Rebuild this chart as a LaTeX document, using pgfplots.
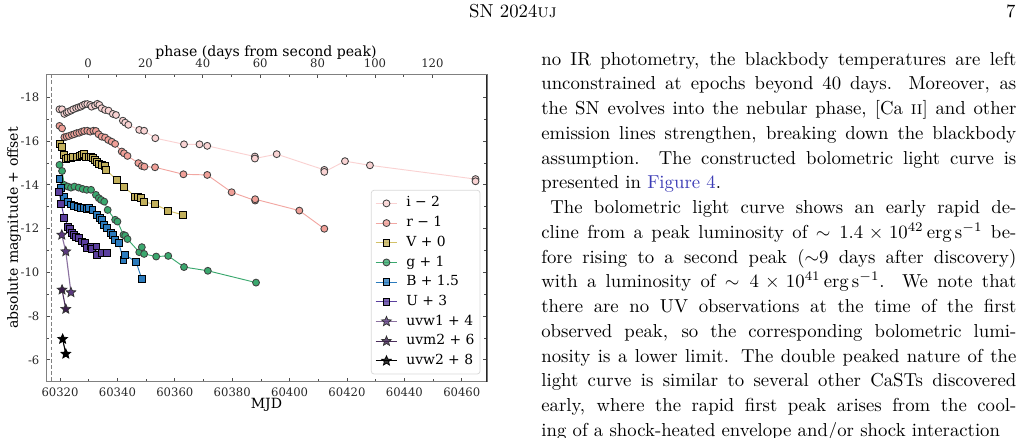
\documentclass[border=0pt]{standalone}
\usepackage{fontspec}
\usepackage{pgfplots}
\pgfplotsset{compat=1.18}
\newfontfamily\chartfont{DejaVu Serif}
\definecolor{ci}{HTML}{F9D3D3}
\definecolor{cil}{HTML}{FAD2D2}
\definecolor{cr}{HTML}{F0A098}
\definecolor{crl}{HTML}{F2A7A2}
\definecolor{cv}{HTML}{C2B05C}
\definecolor{cvl}{HTML}{D3C168}
\definecolor{cg}{HTML}{3AA86E}
\definecolor{cb}{HTML}{2B7BBD}
\definecolor{cu}{HTML}{5B3F9E}
\definecolor{cwa}{HTML}{5C3A80}
\definecolor{cwal}{HTML}{8B71A0}
\definecolor{cmb}{HTML}{3B1E4C}
\definecolor{cmbl}{HTML}{4B2E5C}
\definecolor{linkblue}{HTML}{3B3BB5}
\pgfdeclareplotmark{fstar}{%
  \pgfpathmoveto{\pgfpointpolar{90}{\pgfplotmarksize}}%
  \pgfpathlineto{\pgfpointpolar{126}{0.45\pgfplotmarksize}}%
  \pgfpathlineto{\pgfpointpolar{162}{\pgfplotmarksize}}%
  \pgfpathlineto{\pgfpointpolar{198}{0.45\pgfplotmarksize}}%
  \pgfpathlineto{\pgfpointpolar{234}{\pgfplotmarksize}}%
  \pgfpathlineto{\pgfpointpolar{270}{0.45\pgfplotmarksize}}%
  \pgfpathlineto{\pgfpointpolar{306}{\pgfplotmarksize}}%
  \pgfpathlineto{\pgfpointpolar{342}{0.45\pgfplotmarksize}}%
  \pgfpathlineto{\pgfpointpolar{18}{\pgfplotmarksize}}%
  \pgfpathlineto{\pgfpointpolar{54}{0.45\pgfplotmarksize}}%
  \pgfpathclose
  \pgfusepathqfillstroke}
\begin{document}
\begin{tikzpicture}
\useasboundingbox (0,0) rectangle (549.33pt,-233.07pt);
\clip (0,0) rectangle (549.33pt,-233.07pt);

\begin{axis}[
  at={(24.533pt,-203.57pt)}, anchor=south west,
  scale only axis, width=235.2pt, height=163.95pt,
  xmin=60315.1, xmax=60468.8, ymin=-19.05, ymax=-5.0, y dir=reverse,
  scaled x ticks=false, scaled y ticks=false,
  xtick={60320,60340,60360,60380,60400,60420,60440,60460},
  xticklabels={60320,60340,60360,60380,60400,60420,60440,60460},
  minor x tick num=1,
  ytick={-18,-16,-14,-12,-10,-8,-6},
  yticklabels={-18,-16,-14,-12,-10,-8,-6},
  minor y tick num=1,
  xtick pos=left,
  tick align=inside,
  major tick length=2pt, minor tick length=1.4pt,
  every tick/.style={black!70, line width=0.4pt},
  axis line style={black!50, line width=0.5pt},
  ticklabel style={font=\chartfont\fontsize{6.2}{7}\selectfont, text=black!85},
  legend cell align=left,
  legend style={at={(0.985,0.624)}, anchor=north east, draw=black!15,
    rounded corners=1.5pt, fill=white, fill opacity=0.8, text opacity=1,
    font=\chartfont\fontsize{7.4}{8}\selectfont, inner xsep=2pt, inner ysep=2.5pt,
    row sep=1.5pt, nodes={inner sep=1pt, text height=5.4pt, text depth=1.6pt},
    /tikz/every odd column/.append style={column sep=3.5pt}},
  legend image code/.code={\draw[mark repeat=2,mark phase=2,#1] plot coordinates {(0pt,0pt) (5.8pt,0pt) (11.6pt,0pt)};},
]
\addplot[black!50, line width=0.5pt, dash pattern=on 2.1pt off 1.2pt, forget plot] coordinates {(60317.1,-19.05) (60317.1,-5.0)};

\addplot[color=cil, line width=0.5pt, mark=*, mark size=1.85pt, mark options={fill=ci, draw=black!75, line width=0.45pt}] coordinates {
(60319.8,-17.45) (60320.7,-17.45) (60321.5,-17.24) (60322.3,-17.30) (60322.9,-17.34) (60323.8,-17.39)
(60324.6,-17.45) (60325.6,-17.50) (60326.4,-17.54) (60327.2,-17.57) (60327.9,-17.63) (60328.7,-17.68)
(60329.5,-17.69) (60330.5,-17.65) (60331.0,-17.57) (60332.2,-17.63) (60333.0,-17.70) (60333.7,-17.65)
(60334.5,-17.50) (60335.7,-17.42) (60336.9,-17.39) (60338.4,-17.24) (60339.5,-17.19) (60341.9,-16.93)
(60342.7,-16.84) (60343.8,-16.74) (60347.6,-16.51) (60349.3,-16.47) (60353.2,-16.13) (60363.2,-15.85)
(60368.6,-15.85) (60371.3,-15.78) (60387.9,-15.29) (60387.9,-15.20) (60395.5,-15.40) (60412.1,-14.68)
(60412.1,-14.59) (60419.3,-15.08) (60428.0,-14.89) (60464.8,-14.26) (60464.8,-14.16)};
\addlegendentry{i − 2}

\addplot[color=crl, line width=0.5pt, mark=*, mark size=1.85pt, mark options={fill=cr, draw=black!75, line width=0.45pt}] coordinates {
(60319.8,-16.69) (60320.7,-16.58) (60321.5,-16.17) (60322.3,-16.20) (60323.1,-16.23) (60324.1,-16.28)
(60324.9,-16.31) (60325.8,-16.36) (60326.7,-16.38) (60327.6,-16.43) (60328.4,-16.46) (60329.5,-16.47)
(60330.5,-16.43) (60331.6,-16.47) (60332.5,-16.46) (60333.4,-16.31) (60334.5,-16.20) (60335.7,-16.16)
(60336.8,-16.05) (60338.0,-15.97) (60339.2,-15.87) (60341.5,-15.52) (60342.3,-15.44) (60343.5,-15.32)
(60347.3,-14.99) (60348.5,-14.86) (60349.4,-14.83) (60353.1,-14.80) (60363.0,-14.48) (60371.3,-14.45)
(60379.8,-13.66) (60388.0,-13.28) (60388.0,-13.34) (60403.4,-12.82) (60412.1,-11.99)};
\addlegendentry{r − 1}

\addplot[color=cvl, line width=0.5pt, mark=square*, mark size=1.85pt, mark options={fill=cv, draw=black, line width=0.5pt}] coordinates {
(60320.0,-15.87) (60320.7,-15.74) (60321.2,-15.37) (60322.1,-15.17) (60322.9,-15.21) (60323.7,-15.21)
(60324.6,-15.26) (60325.8,-15.29) (60327.0,-15.32) (60327.6,-15.37) (60328.4,-15.40) (60329.1,-15.26)
(60329.9,-15.29) (60330.7,-15.29) (60331.6,-15.21) (60332.2,-15.14) (60333.0,-15.06) (60333.7,-14.95)
(60334.5,-14.91) (60335.7,-14.86) (60336.0,-14.68) (60339.8,-14.22) (60342.3,-13.92) (60346.1,-13.46)
(60347.3,-13.46) (60348.1,-13.39) (60349.3,-13.21) (60353.1,-13.11) (60357.7,-12.81) (60362.7,-12.63)};
\addlegendentry{V + 0}

\addplot[color=cg, line width=0.5pt, mark=*, mark size=1.85pt, mark options={fill=cg, draw=black!75, line width=0.45pt}] coordinates {
(60319.8,-14.91) (60320.7,-14.63) (60321.5,-13.99) (60322.7,-13.92) (60323.8,-13.87) (60325.0,-13.92)
(60326.5,-13.87) (60327.9,-13.81) (60329.3,-13.77) (60330.8,-13.77) (60332.5,-13.54) (60333.5,-13.39)
(60334.3,-13.31) (60335.4,-13.23) (60336.6,-12.85) (60339.2,-12.40) (60340.0,-12.32) (60342.1,-11.71)
(60342.7,-11.68) (60343.5,-11.52) (60347.6,-10.92) (60348.5,-11.15) (60349.3,-10.84) (60353.5,-10.72)
(60357.7,-10.75) (60363.2,-10.24) (60371.5,-10.07) (60388.3,-9.53)};
\addlegendentry{g + 1}

\addplot[color=cb, line width=0.5pt, mark=square*, mark size=1.85pt, mark options={fill=cb, draw=black, line width=0.5pt}] coordinates {
(60319.8,-14.25) (60320.4,-13.85) (60321.5,-13.46) (60322.7,-13.20) (60323.8,-13.10) (60325.0,-13.05)
(60326.1,-13.00) (60327.3,-12.96) (60328.4,-12.93) (60329.3,-12.90) (60330.1,-12.93) (60331.3,-12.85)
(60333.0,-12.63) (60333.8,-12.50) (60334.7,-12.40) (60335.3,-12.17) (60336.5,-12.02) (60337.6,-11.79)
(60338.4,-11.71) (60339.2,-11.48) (60340.4,-11.36) (60342.1,-10.57) (60342.7,-10.80) (60346.5,-10.47)
(60348.5,-9.69)};
\addlegendentry{B + 1.5}

\addplot[color=cu, line width=0.5pt, mark=square*, mark size=1.85pt, mark options={fill=cu, draw=black, line width=0.5pt}] coordinates {
(60319.7,-13.67) (60320.4,-13.12) (60321.5,-12.48) (60322.9,-12.09) (60323.5,-11.97) (60324.1,-11.80)
(60324.9,-11.70) (60325.6,-11.61) (60326.7,-11.55) (60327.6,-11.41) (60328.8,-11.33) (60329.5,-11.12)
(60330.7,-11.18) (60331.2,-11.08) (60332.7,-11.18) (60332.9,-10.80) (60334.6,-10.88) (60336.5,-10.88)};
\addlegendentry{U + 3}

\addplot[color=cwal, line width=0.6pt, mark=fstar, mark size=2.7pt, mark options={fill=cwa, draw=black!80, line width=0.4pt}] coordinates {
(60320.6,-11.71) (60322.0,-10.95) (60323.8,-9.08)};
\addlegendentry{uvw1 + 4}

\addplot[color=cmbl, line width=0.6pt, mark=fstar, mark size=2.7pt, mark options={fill=cmb, draw=black!80, line width=0.4pt}] coordinates {
(60320.7,-9.20) (60322.0,-8.32)};
\addlegendentry{uvm2 + 6}

\addplot[color=black, line width=0.6pt, mark=fstar, mark size=2.7pt, mark options={fill=black, draw=black, line width=0.4pt}] coordinates {
(60320.9,-6.95) (60322.0,-6.27)};
\addlegendentry{uvw2 + 8}

\draw[black!85, line width=0.6pt] (rel axis cs:1,0) -- (rel axis cs:1,1);
\end{axis}

\begin{axis}[
  at={(24.533pt,-203.57pt)}, anchor=south west,
  scale only axis, width=235.2pt, height=163.95pt,
  xmin=-14.66, xmax=139.04, ymin=0, ymax=1,
  axis x line*=top, axis y line=none,
  scaled x ticks=false,
  xtick={0,20,40,60,80,100,120}, xticklabels={0,20,40,60,80,100,120},
  minor x tick num=1, tick align=inside,
  major tick length=2pt, minor tick length=1.4pt,
  every tick/.style={black!70, line width=0.4pt},
  axis line style={black!50, line width=0.5pt},
  ticklabel style={font=\chartfont\fontsize{6.2}{7}\selectfont, text=black!85},
]
\end{axis}

\begin{scope}[x=0.53333pt,y=-0.53333pt]
\node[font=\chartfont\fontsize{7.5}{9}\selectfont] at (266.5,405) {MJD};
\node[font=\chartfont\fontsize{7.5}{9}\selectfont, rotate=90] at (14,228) {absolute magnitude + offset};
\node[font=\chartfont\fontsize{7.5}{9}\selectfont] at (266,52.7) {phase (days from second peak)};
\node[anchor=base, inner sep=0, font=\fontsize{10}{12}\selectfont] at (513,17) {SN 2024\textsc{uj}};
\node[anchor=base east, inner sep=0, font=\fontsize{10}{12}\selectfont] at (1016,17) {7};
\node[anchor=base west, inner sep=0] at (541,65) {\parbox[t]{253.33pt}{\fontsize{10}{13.2}\selectfont\setlength{\parindent}{4.8pt}%
\noindent no IR photometry, the blackbody temperatures are left\linebreak
unconstrained at epochs beyond 40 days. Moreover, as\linebreak
the SN evolves into the nebular phase, [Ca~\textsc{ii}] and other\linebreak
emission lines strengthen, breaking down the blackbody\linebreak
assumption. The constructed bolometric light curve is\linebreak
presented in \textcolor{linkblue}{Figure 4}.\par
The bolometric light curve shows an early rapid de-\linebreak
cline from a peak luminosity of $\sim1.4\times10^{42}\,\mathrm{erg\,s^{-1}}$ be-\linebreak
fore rising to a second peak ($\sim$9 days after discovery)\linebreak
with a luminosity of $\sim4\times10^{41}\,\mathrm{erg\,s^{-1}}$. We note that\linebreak
there are no UV observations at the time of the first\linebreak
observed peak, so the corresponding bolometric lumi-\linebreak
nosity is a lower limit. The double peaked nature of the\linebreak
light curve is similar to several other CaSTs discovered\linebreak
early, where the rapid first peak arises from the cool-\linebreak
ing of a shock-heated envelope and/or shock interaction}};
\end{scope}
\end{tikzpicture}
\end{document}
